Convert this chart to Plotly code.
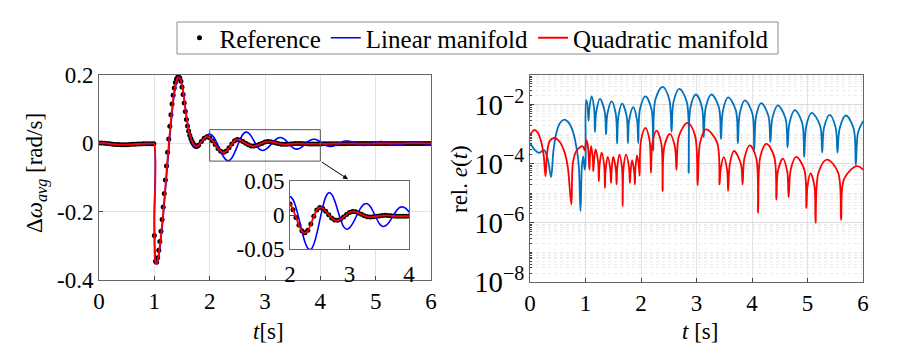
import numpy as np
import plotly.graph_objects as go

# sample times of the frequency response (s)
t_resp = np.round(np.concatenate([np.arange(0, 0.96, 0.05), [0.99],
                                  np.arange(1.0, 1.81, 0.02),
                                  np.arange(1.85, 6.001, 0.05)]), 3)

# average frequency deviation (rad/s)
w_ref = [
    0.001, 0.0008, 0.0003, -0.0005, -0.0015, -0.0025, -0.0032, -0.0037, -0.004, -0.004,
    -0.0038, -0.0034, -0.003, -0.0025, -0.002, -0.0016, -0.0013, -0.001, -0.001, -0.001, -0.001,
    -0.27, -0.345, -0.348, -0.335, -0.313, -0.287, -0.257, -0.223, -0.186, -0.147,
    -0.107, -0.066, -0.026, 0.013, 0.050, 0.084, 0.115, 0.141, 0.162, 0.178,
    0.188, 0.193, 0.194, 0.191, 0.182, 0.165, 0.143, 0.118, 0.093, 0.070,
    0.051, 0.036, 0.024, 0.014, 0.006, 0.0, -0.005, -0.008, -0.009, -0.008, -0.005,
    0.005, 0.0149, 0.019, 0.016,
    0.0078, -0.0035, -0.0148, -0.023, -0.026, -0.0225, -0.0132, -0.0018, 0.0075, 0.011,
    0.0095, 0.0056, 0.0004, -0.0044, -0.0075, -0.0078, -0.0061, -0.003, 0.0006, 0.0036,
    0.005, 0.0046, 0.0031, 0.001, -0.0011, -0.0026, -0.003, -0.0027, -0.002, -0.0013,
    -0.0008, -0.0005, -0.0008, -0.0012, -0.0015, -0.0017, -0.0018, -0.0018, -0.0017, -0.0016,
    -0.0015, -0.0014, -0.0013, -0.0012, -0.0011, -0.001, -0.001, -0.0009, -0.0009, -0.0008,
    -0.0008, -0.0008, -0.0007, -0.0007, -0.0007, -0.0007, -0.0006, -0.0006, -0.0006, -0.0006,
    -0.0005, -0.0005, -0.0005, -0.0005, -0.0005, -0.0005, -0.0004, -0.0004, -0.0004, -0.0004,
    -0.0004, -0.0004, -0.0004, -0.0003, -0.0003, -0.0003, -0.0003, -0.0003, -0.0003, -0.0003,
]

w_lin = [
    0.001, 0.0008, 0.0003, -0.0005, -0.0015, -0.0025, -0.0032, -0.0037, -0.004, -0.004,
    -0.0038, -0.0034, -0.003, -0.0025, -0.002, -0.0016, -0.0013, -0.001, -0.001, -0.001, -0.001,
    -0.22, -0.34, -0.352, -0.346, -0.330, -0.307, -0.28, -0.249, -0.214, -0.177,
    -0.138, -0.098, -0.058, -0.019, 0.019, 0.055, 0.088, 0.118, 0.143, 0.163,
    0.177, 0.186, 0.189, 0.188, 0.182, 0.170, 0.152, 0.130, 0.106, 0.082,
    0.060, 0.041, 0.026, 0.013, 0.003, -0.004, -0.008, -0.0095, -0.009, -0.0084, -0.0066,
    0.0021, 0.0137, 0.0233, 0.027,
    0.0228, 0.0111, -0.0056, -0.0237, -0.0392, -0.0489, -0.0506, -0.043, -0.0276, -0.008,
    0.0114, 0.0262, 0.0328, 0.0305, 0.0211, 0.0075, -0.0066, -0.0171, -0.021, -0.0189,
    -0.013, -0.0047, 0.0042, 0.0118, 0.0162, 0.0166, 0.0124, 0.0045, -0.0045, -0.0124,
    -0.0166, -0.0163, -0.0125, -0.0061, 0.0011, 0.0075, 0.0113, 0.0118, 0.0093, 0.0047,
    -0.0007, -0.0055, -0.0085, -0.0088, -0.0069, -0.0035, 0.0007, 0.0044, 0.0066, 0.0069,
    0.0053, 0.0025, -0.0009, -0.0038, -0.0057, -0.0059, -0.0046, -0.0022, 0.0006, 0.0032,
    0.0047, 0.0049, 0.0038, 0.0019, -0.0004, -0.0025, -0.0038, -0.0039, -0.0031, -0.0016,
    0.0002, 0.0018, 0.0028, 0.0029, 0.0024, 0.0013, 0.0, -0.0012, -0.0019, -0.002,
]

w_quad = [
    0.001, 0.0008, 0.0003, -0.0005, -0.0015, -0.0025, -0.0032, -0.0037, -0.004, -0.004,
    -0.0038, -0.0034, -0.003, -0.0025, -0.002, -0.0016, -0.0013, -0.001, -0.001, -0.001, -0.001,
    -0.25, -0.348, -0.352, -0.342, -0.323, -0.298, -0.27, -0.238, -0.202, -0.164,
    -0.124, -0.084, -0.044, -0.005, 0.033, 0.068, 0.100, 0.129, 0.153, 0.171,
    0.184, 0.191, 0.194, 0.192, 0.185, 0.171, 0.151, 0.127, 0.101, 0.077,
    0.056, 0.039, 0.026, 0.015, 0.007, 0.0, -0.005, -0.008, -0.009, -0.008, -0.006,
    0.0045, 0.0145, 0.0192, 0.0165,
    0.0082, -0.0033, -0.0150, -0.0235, -0.0268, -0.0232, -0.0137, -0.0020, 0.0075, 0.0112,
    0.0098, 0.0058, 0.0005, -0.0045, -0.0076, -0.0080, -0.0063, -0.0031, 0.0006, 0.0037,
    0.0051, 0.0047, 0.0032, 0.0011, -0.0011, -0.0026, -0.0031, -0.0028, -0.0021, -0.0013,
    -0.0008, -0.0005, -0.0008, -0.0012, -0.0015, -0.0017, -0.0018, -0.0018, -0.0017, -0.0016,
    -0.0015, -0.0014, -0.0013, -0.0012, -0.0011, -0.001, -0.001, -0.0009, -0.0009, -0.0008,
    -0.0008, -0.0008, -0.0007, -0.0007, -0.0007, -0.0007, -0.0006, -0.0006, -0.0006, -0.0006,
    -0.0005, -0.0005, -0.0005, -0.0005, -0.0005, -0.0005, -0.0004, -0.0004, -0.0004, -0.0004,
    -0.0004, -0.0004, -0.0004, -0.0003, -0.0003, -0.0003, -0.0003, -0.0003, -0.0003, -0.0003,
]

assert len(t_resp) == len(w_ref) == len(w_lin) == len(w_quad)

# relative error, (t [s], log10 e)
err_lin = [
    (0.00, -3.29), (0.08, -3.52), (0.17, -3.63), (0.25, -3.53), (0.32, -3.85), (0.38, -4.45),
    (0.42, -3.6), (0.47, -3.0), (0.54, -2.62), (0.62, -2.51), (0.70, -2.62), (0.78, -2.95),
    (0.85, -3.6), (0.88, -4.1), (0.91, -5.6), (0.935, -4.1), (0.96, -3.75), (0.985, -4.2),
    (1.0, -4.0), (1.01, -1.85), (1.03, -1.95), (1.055, -2.55),
    (1.069, -2.15), (1.11, -1.72), (1.156, -2.15), (1.17, -2.93),
    (1.194, -2.24), (1.26, -1.81), (1.346, -2.24), (1.37, -3.01),
    (1.394, -2.32), (1.47, -1.89), (1.546, -2.32), (1.57, -3.32),
    (1.593, -2.40), (1.66, -1.97), (1.742, -2.40), (1.765, -3.3),
    (1.787, -2.52), (1.86, -2.09), (1.928, -2.52), (1.95, -3.30),
    (1.982, -2.15), (2.08, -1.72), (2.188, -2.15), (2.22, -3.55),
    (2.26, -1.83), (2.39, -1.40), (2.51, -1.83), (2.55, -2.92),
    (2.587, -1.90), (2.69, -1.47), (2.823, -1.90), (2.86, -4.31),
    (2.892, -2.09), (2.99, -1.66), (3.098, -2.09), (3.13, -3.1),
    (3.167, -2.09), (3.27, -1.66), (3.403, -2.09), (3.44, -3.17),
    (3.477, -2.19), (3.57, -1.76), (3.708, -2.19), (3.745, -3.31),
    (3.78, -2.29), (3.87, -1.86), (4.005, -2.29), (4.04, -3.52),
    (4.075, -2.38), (4.165, -1.95), (4.295, -2.38), (4.33, -3.26),
    (4.367, -2.46), (4.465, -2.03), (4.603, -2.46), (4.64, -3.45),
    (4.676, -2.62), (4.77, -2.19), (4.904, -2.62), (4.94, -3.77),
    (4.979, -2.71), (5.075, -2.28), (5.226, -2.71), (5.265, -3.62),
    (5.298, -2.78), (5.40, -2.35), (5.507, -2.78), (5.54, -3.62),
    (5.58, -2.80), (5.69, -2.37), (5.83, -2.80), (5.87, -4.05),
    (5.91, -2.95), (6.0, -2.56),
]

err_quad = [
    (0.00, -3.05), (0.04, -2.92), (0.08, -2.86), (0.14, -2.95), (0.20, -3.25), (0.245, -3.7),
    (0.28, -4.42), (0.31, -3.6), (0.36, -3.22), (0.44, -3.13), (0.53, -3.25), (0.62, -3.6),
    (0.68, -4.1), (0.745, -5.38), (0.775, -3.95), (0.84, -3.55), (0.95, -3.41), (0.985, -3.55),
    (1.0, -3.4), (1.015, -3.2), (1.04, -3.35), (1.07, -4.2),
    (1.078, -3.84), (1.10, -3.41), (1.132, -3.84), (1.14, -4.25),
    (1.152, -3.95), (1.18, -3.52), (1.228, -3.95), (1.24, -4.59),
    (1.253, -4.06), (1.29, -3.63), (1.337, -4.06), (1.35, -4.82),
    (1.363, -4.2), (1.40, -3.77), (1.447, -4.2), (1.46, -4.65),
    (1.472, -4.2), (1.50, -3.77), (1.548, -4.2), (1.56, -4.70),
    (1.573, -4.12), (1.61, -3.69), (1.657, -4.12), (1.67, -5.43),
    (1.686, -4.12), (1.73, -3.69), (1.784, -4.12), (1.80, -4.65),
    (1.811, -4.31), (1.84, -3.88), (1.879, -4.31), (1.89, -4.70),
    (1.90, -4.15), (1.93, -3.72), (1.965, -4.15), (1.975, -4.4),
    (2.0, -3.22), (2.08, -2.79), (2.155, -3.22), (2.18, -4.31),
    (2.205, -3.31), (2.28, -2.88), (2.365, -3.31), (2.39, -4.93),
    (2.42, -3.42), (2.52, -2.99), (2.61, -3.42), (2.64, -4.2),
    (2.686, -3.05), (2.84, -2.62), (2.974, -3.05), (3.02, -4.73),
    (3.067, -3.27), (3.17, -2.84), (3.368, -3.27), (3.415, -4.70),
    (3.434, -4.21), (3.49, -3.78), (3.551, -4.21), (3.57, -4.92),
    (3.601, -4.0), (3.675, -3.57), (3.799, -4.0), (3.83, -4.70),
    (3.864, -3.81), (3.96, -3.38), (4.076, -3.81), (4.11, -5.66),
    (4.15, -3.76), (4.26, -3.33), (4.40, -3.76), (4.44, -5.21),
    (4.466, -4.26), (4.555, -3.83), (4.634, -4.26), (4.66, -5.13),
    (4.698, -4.2), (4.795, -3.77), (4.942, -4.2), (4.98, -5.5),
    (5.0, -4.76), (5.055, -4.33), (5.125, -4.76), (5.145, -6.0),
    (5.20, -4.29), (5.35, -3.86), (5.55, -4.29), (5.605, -5.9),
    (5.66, -4.51), (5.89, -4.08), (6.0, -4.2),
]

FONT = "Liberation Serif"
BLUE, RED, MBLUE = "#0000FF", "#FF0000", "#0072BD"

W, H = 897, 359
OFF = 8  # the page body adds an 8px margin around the figure


def px(x):
    return (x - OFF) / W


def py(y):
    return 1 - (y - OFF) / H


fig = go.Figure()

# main response plot + inset (same data)
for xa, ya, show in [("x", "y", True), ("x2", "y2", False)]:
    fig.add_trace(go.Scatter(x=t_resp, y=w_ref, mode="markers", name="Reference",
                             marker=dict(color="black", size=5), xaxis=xa, yaxis=ya,
                             showlegend=show))
    fig.add_trace(go.Scatter(x=t_resp, y=w_lin, mode="lines", name="Linear manifold",
                             line=dict(color=BLUE, width=1.6, shape="spline"),
                             xaxis=xa, yaxis=ya, showlegend=show))
    fig.add_trace(go.Scatter(x=t_resp, y=w_quad, mode="lines", name="Quadratic manifold",
                             line=dict(color=RED, width=1.8, shape="spline"),
                             xaxis=xa, yaxis=ya, showlegend=show))

# relative error plot
tl, el = zip(*err_lin)
tq, eq = zip(*err_quad)
fig.add_trace(go.Scatter(x=tl, y=10 ** np.array(el), mode="lines", showlegend=False,
                         line=dict(color=MBLUE, width=1.8, shape="spline"),
                         xaxis="x3", yaxis="y3"))
fig.add_trace(go.Scatter(x=tq, y=10 ** np.array(eq), mode="lines", showlegend=False,
                         line=dict(color=RED, width=1.8, shape="spline"),
                         xaxis="x3", yaxis="y3"))

tick_font = dict(family=FONT, size=23, color="black")
box = dict(showline=True, mirror=True, linecolor="#666666", linewidth=1,
           ticks="inside", ticklen=4, tickcolor="#444444", zeroline=False,
           tickfont=tick_font, automargin=False)

fig.update_layout(
    width=W, height=H,
    margin=dict(l=0, r=0, t=0, b=0),
    paper_bgcolor="white", plot_bgcolor="white",
    font=dict(family=FONT, color="black"),
    xaxis=dict(domain=[px(99), px(431)], range=[0, 6], dtick=1, anchor="y",
               showgrid=True, gridcolor="#e3e3e3", **box),
    yaxis=dict(domain=[py(280), py(75)], range=[-0.4, 0.2], anchor="x",
               tickvals=[-0.4, -0.2, 0, 0.2], ticktext=["-0.4", "-0.2", "0", "0.2"],
               showgrid=True, gridcolor="#e3e3e3", **box),
    xaxis2=dict(domain=[px(290), px(409)], range=[2, 4], dtick=1, anchor="y2",
                showgrid=False, ticklabelstandoff=4, **box),
    yaxis2=dict(domain=[py(249), py(181)], range=[-0.05, 0.05], anchor="x2",
                tickvals=[-0.05, 0, 0.05], ticktext=["-0.05", "0", "0.05"],
                showgrid=False, **box),
    xaxis3=dict(domain=[px(530), px(863)], range=[0, 6], dtick=1, anchor="y3",
                showgrid=True, gridcolor="#e3e3e3", **box),
    yaxis3=dict(domain=[py(282), py(75)], type="log", range=[-8, -1],
                anchor="x3", dtick=2, exponentformat="power", showgrid=True,
                gridcolor="#dcdcdc",
                minor=dict(dtick="D1", showgrid=True, gridcolor="#ececec",
                           griddash="dot", ticks="inside", ticklen=2),
                **box),
    legend=dict(orientation="h", x=px(477), y=py(38), xanchor="center",
                yanchor="middle", bgcolor="rgba(0,0,0,0)", borderwidth=0,
                font=dict(family=FONT, size=25, color="black"), itemwidth=30,
                tracegroupgap=0),
)

# legend frame
fig.add_shape(type="rect", xref="paper", yref="paper", x0=px(177), x1=px(778),
              y0=py(54), y1=py(22), line=dict(color="#8c8c8c", width=1), layer="below")

# zoom box on the main plot and arrow to the inset
fig.add_shape(type="rect", xref="x", yref="y", x0=2, x1=4, y0=-0.052, y1=0.04,
              line=dict(color="#555555", width=1))
fig.add_annotation(xref="x", yref="y", axref="x", ayref="y", x=4.5, y=-0.105,
                   ax=4.0, ay=-0.052, text="", showarrow=True, arrowhead=2,
                   arrowsize=1, arrowwidth=1, arrowcolor="black")

# axis titles
title_font = dict(family=FONT, size=23, color="black")
titles = [
    (37, 173, "Δ<i>ω</i><sub><i>avg</i></sub> [rad/s]", -90),
    (268, 331, "<i>t</i>[s]", 0),
    (700, 331, "<i>t</i> [s]", 0),
    (459, 179, "rel. <i>e</i>(<i>t</i>)", -90),
]
for x, y, text, angle in titles:
    fig.add_annotation(xref="paper", yref="paper", x=px(x), y=py(y), showarrow=False,
                       xanchor="center", yanchor="middle", text=text, textangle=angle,
                       font=title_font)

fig.write_html("out.html")
